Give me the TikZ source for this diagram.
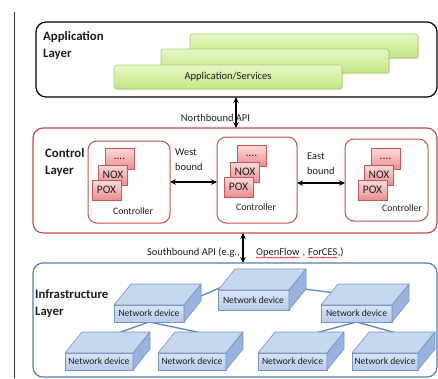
\documentclass[tikz,border=0pt]{standalone}
\usepackage{fontspec}
\setmainfont{Carlito}
\usetikzlibrary{arrows.meta,shadows,decorations.pathmorphing,calc}

\definecolor{appgreenA}{RGB}{232,247,198}
\definecolor{appgreenB}{RGB}{194,230,132}
\definecolor{appgreenE}{RGB}{170,205,108}
\definecolor{ctlred}{RGB}{192,80,77}
\definecolor{minitop}{RGB}{252,220,220}
\definecolor{minibot}{RGB}{236,142,142}
\definecolor{miniedge}{RGB}{200,86,86}
\definecolor{infblue}{RGB}{88,126,178}
\definecolor{devtopc}{RGB}{198,215,240}
\definecolor{devfrontA}{RGB}{216,228,246}
\definecolor{devfrontB}{RGB}{182,203,236}
\definecolor{devsidec}{RGB}{152,180,222}
\definecolor{devedgec}{RGB}{118,148,196}
\definecolor{linkc}{RGB}{96,134,186}
\definecolor{inkc}{RGB}{30,30,30}

\pgfdeclarelayer{bg}
\pgfdeclarelayer{links}
\pgfsetlayers{bg,links,main}

% three-dimensional network device: front face node plus top and side faces
\newcommand\netdev[5]{%
  \node[devfront, minimum width=#4, minimum height=#5, anchor=north west] (#1) at (#2,#3) {Network device};
  \draw[devedge, fill=devtopc] (#1.north west) -- ++(17,-21) -- ++(#4,0) -- (#1.north east) -- cycle;
  \draw[devedge, fill=devsidec] (#1.north east) -- ++(17,-21) -- ++(0,#5) -- (#1.south east) -- cycle;
}

% stacked controller implementations, given the top-left corner of the front card
\newcommand\ministack[3]{%
  \node[mini, minimum height=21] (#1dots) at (#2+13,#3-32) {....};
  \node[mini] (#1nox) at (#2+6.5,#3-15) {NOX};
  \node[mini] (#1pox) at (#2,#3) {POX};
}

\begin{document}
\begin{tikzpicture}[x=1pt,y=-1pt,
  every node/.style={text=inkc},
  layerbox/.style={draw, rounded corners=10pt, line width=1.2pt, fill=white, inner sep=0, outer sep=0},
  layertitle/.style={font=\fontsize{12.8}{17}\selectfont\bfseries, align=left, anchor=north west, inner sep=0},
  appbox/.style={draw=appgreenE, line width=0.6pt, rounded corners=3pt, top color=appgreenA, bottom color=appgreenB,
    minimum width=228, minimum height=24, inner sep=0, outer sep=0,
    drop shadow={opacity=0.22, shadow xshift=1.2pt, shadow yshift=-1.2pt}},
  ctlbox/.style={draw=ctlred, line width=1pt, rounded corners=9pt, fill=white, inner sep=0, outer sep=0},
  mini/.style={draw=miniedge, line width=0.6pt, top color=minitop, bottom color=minibot,
    minimum width=29, minimum height=20, inner sep=0, outer sep=0, anchor=north west,
    font=\fontsize{11.5}{13}\selectfont,
    drop shadow={opacity=0.2, shadow xshift=0.8pt, shadow yshift=-0.8pt}},
  devfront/.style={draw=devedgec, line width=0.6pt, top color=devfrontA, bottom color=devfrontB,
    inner sep=0, outer sep=0, font=\fontsize{9.6}{11}\selectfont},
  devedge/.style={draw=devedgec, line width=0.6pt, line join=round},
  link/.style={draw=linkc, line width=1.3pt},
  biarrow/.style={{Stealth[length=6pt,width=5.5pt]}-{Stealth[length=6pt,width=5.5pt]}, line width=1.2pt, black},
  lbl/.style={font=\fontsize{10.5}{12}\selectfont, inner sep=0},
  ctllbl/.style={font=\fontsize{9.8}{11}\selectfont, inner sep=0},
  wavy/.style={draw=red!85!black, line width=0.4pt, decorate,
    decoration={snake, amplitude=0.6pt, segment length=2.4pt}}
]
\useasboundingbox (0,0) rectangle (438,378);

% page margin rule
\draw[line width=0.8pt, black!80] (14,12) -- (14,378);

% the three layers
\begin{pgfonlayer}{bg}
  \node[layerbox, draw=black, minimum width=401, minimum height=75] (app) at (236.5,59.5) {};
  \node[layerbox, draw=ctlred, minimum width=404, minimum height=105] (ctl) at (235,180.5) {};
  \node[layerbox, draw=infblue, minimum width=404, minimum height=114] (infra) at (235,320) {};
\end{pgfonlayer}

\node[layertitle] (apptitle) at (43,31) {Application\\Layer};
\node[layertitle] (ctltitle) at (45,148) {Control\\Layer};
\node[layertitle] (inftitle) at (35,289) {Infrastructure\\Layer};

% application layer
\node[appbox] (svc3) at (304,46) {};
\node[appbox] (svc2) at (275,61) {};
\node[appbox, font=\fontsize{10.5}{12}\selectfont] (svc1) at (228,77) {Application/Services};

% northbound interface
\coordinate (nbx) at (236,0);
\node[lbl] (nbl) at (215.5,118) {Northbound API};
\draw[biarrow] (app.south -| nbx) -- (ctl.north -| nbx);

% control layer
\node[ctlbox, minimum width=82, minimum height=82] (c1) at (129,182) {};
\node[ctlbox, minimum width=80, minimum height=86] (c2) at (257,180) {};
\node[ctlbox, minimum width=83, minimum height=82] (c3) at (386.5,180) {};

\ministack{a}{92}{180}
\ministack{b}{224}{177}
\ministack{c}{358}{180}

\node[ctllbl] (c1lbl) at (133,211) {Controller};
\node[ctllbl] (c2lbl) at (256,207.5) {Controller};
\node[ctllbl] (c3lbl) at (402,208) {Controller};

\node[font=\fontsize{10.4}{15.5}\selectfont, align=left, anchor=west, inner sep=0] (wbl) at (175,159.5) {West\\bound};
\node[font=\fontsize{10.4}{15.5}\selectfont, align=left, anchor=west, inner sep=0] (ebl) at (307,163.5) {East\\bound};

\coordinate (ew) at (0,183);
\draw[biarrow] (c1.east) -- (c1.east -| c2.west);
\draw[biarrow] (c2.east |- ew) -- (c3.west |- ew);

% southbound interface
\coordinate (sbx) at (243,0);
\node[lbl, anchor=base east] (sbl) at (240,255) {Southbound API (e.g.,};
\node[lbl, anchor=base west] (ofl) at (256,255) {OpenFlow};
\node[lbl, anchor=base west] (cml) at ([xshift=2.6pt]ofl.base east) {,};
\node[lbl, anchor=base west] (fcl) at ([xshift=2.4pt]cml.base east) {ForCES};
\node[lbl, anchor=base west] (cll) at (fcl.base east) {,)};
\draw[wavy] ([yshift=-2.6pt]ofl.base west) -- ([yshift=-2.6pt]ofl.base east);
\draw[wavy] ([yshift=-2.6pt]fcl.base west) -- ([yshift=-2.6pt]fcl.base east);
\draw[biarrow] (ctl.south -| sbx) -- (infra.north -| sbx);

% infrastructure layer devices
\netdev{nd0}{218}{290}{71}{20}
\netdev{nd1}{114}{305}{70}{17}
\netdev{nd2}{321}{305}{71}{17}
\netdev{b1}{65}{353}{68}{17}
\netdev{b2}{158}{353}{68}{17}
\netdev{b3}{258}{353}{69}{17}
\netdev{b4}{352}{353}{66}{17}

% device interconnections, kept behind the devices
\begin{pgfonlayer}{links}
  \draw[link] ($(nd1.north east)+(10,-6)$) -- ($(nd0.north west)+(6,-4)$);
  \draw[link] ($(nd0.north east)+(8,-2)$) -- ($(nd2.north west)+(14,-12)$);
  \draw[link] (nd1.south) -- ($(b1.north)+(16,-19)$);
  \draw[link] (nd1.south) -- ($(b2.north)+(15,-19)$);
  \draw[link] (nd2.south) -- ($(b3.north)+(19,-19)$);
  \draw[link] (nd2.south) -- ($(b4.north)+(15,-19)$);
\end{pgfonlayer}
\end{tikzpicture}
\end{document}
